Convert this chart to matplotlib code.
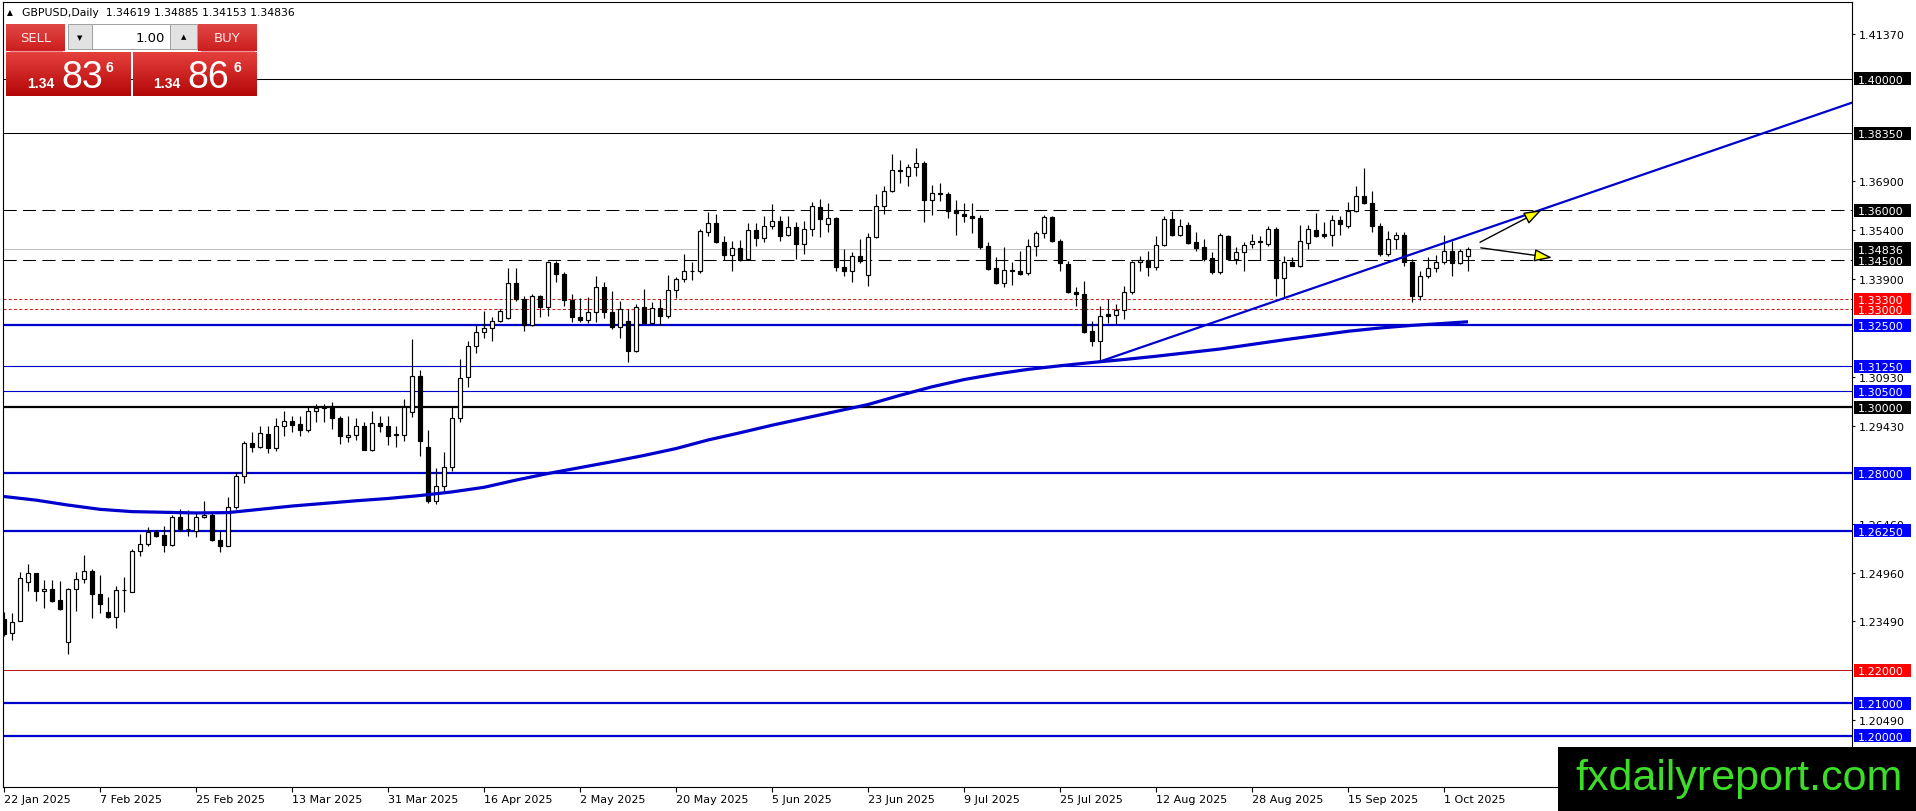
import numpy as np
import matplotlib
matplotlib.use("Agg")
import matplotlib.pyplot as plt
from matplotlib.patches import Rectangle, FancyArrowPatch

# ---- daily candles GBPUSD, bar 0 = 22 Jan 2025 ----
opens = [1.2356, 1.2313, 1.2349, 1.2468, 1.2496, 1.2440, 1.2446, 1.2414, 1.2285, 1.2446,
         1.2477, 1.2501, 1.2431, 1.2376, 1.2363, 1.2443, 1.2439, 1.2562, 1.2583, 1.2620,
         1.2612, 1.2582, 1.2666, 1.2630, 1.2623, 1.2666, 1.2673, 1.2598, 1.2577, 1.2698,
         1.2792, 1.2891, 1.2879, 1.2919, 1.2876, 1.2943, 1.2960, 1.2950, 1.2932, 1.2988,
         1.2999, 1.3001, 1.2967, 1.2909, 1.2917, 1.2943, 1.2872, 1.2952, 1.2945, 1.2917,
         1.2917, 1.2985, 1.3097, 1.2879, 1.2716, 1.2762, 1.2818, 1.2967, 1.3092, 1.3186,
         1.3229, 1.3241, 1.3264, 1.3271, 1.3378, 1.3330, 1.3251, 1.3338, 1.3307, 1.3439,
         1.3405, 1.3326, 1.3274, 1.3266, 1.3292, 1.3366, 1.3290, 1.3244, 1.3264, 1.3173,
         1.3305, 1.3257, 1.3302, 1.3277, 1.3358, 1.3391, 1.3416, 1.3417, 1.3533, 1.3561,
         1.3505, 1.3465, 1.3487, 1.3452, 1.3541, 1.3515, 1.3551, 1.3569, 1.3526, 1.3548,
         1.3498, 1.3543, 1.3609, 1.3559, 1.3576, 1.3427, 1.3417, 1.3462, 1.3404, 1.3520,
         1.3612, 1.3660, 1.3724, 1.3706, 1.3731, 1.3743, 1.3633, 1.3653, 1.3650, 1.3602,
         1.3589, 1.3582, 1.3576, 1.3491, 1.3424, 1.3379, 1.3418, 1.3414, 1.3408, 1.3491,
         1.3530, 1.3579, 1.3508, 1.3437, 1.3353, 1.3347, 1.3234, 1.3203, 1.3284, 1.3282,
         1.3297, 1.3352, 1.3442, 1.3450, 1.3429, 1.3495, 1.3574, 1.3525, 1.3556, 1.3503,
         1.3488, 1.3454, 1.3411, 1.3521, 1.3452, 1.3474, 1.3498, 1.3508, 1.3498, 1.3543,
         1.3393, 1.3442, 1.3432, 1.3501, 1.3541, 1.3527, 1.3525, 1.3571, 1.3551, 1.3597,
         1.3643, 1.3624, 1.3551, 1.3467, 1.3513, 1.3525, 1.3444, 1.3340, 1.3399, 1.3426,
         1.3442, 1.3475, 1.3440, 1.34619]
highs = [1.2376, 1.2373, 1.2500, 1.2524, 1.2496, 1.2476, 1.2476, 1.2473, 1.2452, 1.2500,
         1.2551, 1.2509, 1.2491, 1.2422, 1.2456, 1.2483, 1.2569, 1.2614, 1.2635, 1.2627,
         1.2638, 1.2673, 1.2691, 1.2688, 1.2681, 1.2715, 1.2681, 1.2625, 1.2726, 1.2803,
         1.2899, 1.2924, 1.2945, 1.2945, 1.2967, 1.2988, 1.2975, 1.2975, 1.3000, 1.3011,
         1.3011, 1.3016, 1.2975, 1.2973, 1.2967, 1.2955, 1.2990, 1.2973, 1.2973, 1.2943,
         1.3026, 1.3208, 1.3114, 1.2932, 1.2815, 1.2864, 1.3000, 1.3148, 1.3201, 1.3252,
         1.3293, 1.3275, 1.3300, 1.3425, 1.3425, 1.3340, 1.3347, 1.3342, 1.3447, 1.3447,
         1.3413, 1.3345, 1.3332, 1.3335, 1.3401, 1.3381, 1.3356, 1.3323, 1.3300, 1.3315,
         1.3361, 1.3320, 1.3330, 1.3403, 1.3396, 1.3467, 1.3442, 1.3543, 1.3594, 1.3589,
         1.3523, 1.3508, 1.3511, 1.3561, 1.3561, 1.3582, 1.3620, 1.3582, 1.3582, 1.3564,
         1.3569, 1.3627, 1.3635, 1.3623, 1.3579, 1.3482, 1.3472, 1.3513, 1.3531, 1.3650,
         1.3675, 1.3772, 1.3754, 1.3741, 1.3789, 1.3751, 1.3677, 1.3683, 1.3655, 1.3633,
         1.3622, 1.3622, 1.3586, 1.3503, 1.3457, 1.3488, 1.3442, 1.3477, 1.3513, 1.3538,
         1.3586, 1.3584, 1.3513, 1.3447, 1.3366, 1.3386, 1.3264, 1.3310, 1.3330, 1.3315,
         1.3371, 1.3447, 1.3460, 1.3477, 1.3523, 1.3584, 1.3599, 1.3574, 1.3566, 1.3533,
         1.3513, 1.3472, 1.3530, 1.3525, 1.3490, 1.3503, 1.3528, 1.3521, 1.3551, 1.3548,
         1.3460, 1.3457, 1.3555, 1.3555, 1.3592, 1.3566, 1.3586, 1.3584, 1.3625, 1.3673,
         1.3728, 1.3660, 1.3561, 1.3538, 1.3535, 1.3533, 1.3452, 1.3414, 1.3457, 1.3464,
         1.3526, 1.3508, 1.3484, 1.34885]
lows = [1.2305, 1.2293, 1.2349, 1.2440, 1.2412, 1.2391, 1.2407, 1.2384, 1.2249, 1.2379,
        1.2467, 1.2360, 1.2373, 1.2360, 1.2330, 1.2376, 1.2437, 1.2549, 1.2578, 1.2605,
        1.2561, 1.2577, 1.2625, 1.2610, 1.2605, 1.2663, 1.2593, 1.2559, 1.2577, 1.2691,
        1.2769, 1.2866, 1.2876, 1.2861, 1.2869, 1.2912, 1.2924, 1.2912, 1.2924, 1.2955,
        1.2955, 1.2935, 1.2888, 1.2896, 1.2901, 1.2872, 1.2869, 1.2924, 1.2887, 1.2879,
        1.2899, 1.2970, 1.2853, 1.2708, 1.2705, 1.2744, 1.2808, 1.2955, 1.3063, 1.3165,
        1.3213, 1.3203, 1.3259, 1.3269, 1.3325, 1.3234, 1.3249, 1.3274, 1.3279, 1.3381,
        1.3310, 1.3261, 1.3261, 1.3257, 1.3261, 1.3271, 1.3239, 1.3213, 1.3140, 1.3168,
        1.3254, 1.3254, 1.3251, 1.3271, 1.3332, 1.3381, 1.3389, 1.3409, 1.3523, 1.3500,
        1.3450, 1.3416, 1.3447, 1.3450, 1.3493, 1.3503, 1.3543, 1.3508, 1.3523, 1.3452,
        1.3467, 1.3523, 1.3518, 1.3533, 1.3416, 1.3401, 1.3383, 1.3440, 1.3371, 1.3515,
        1.3589, 1.3655, 1.3683, 1.3675, 1.3704, 1.3564, 1.3586, 1.3630, 1.3576, 1.3525,
        1.3564, 1.3531, 1.3482, 1.3419, 1.3376, 1.3366, 1.3374, 1.3403, 1.3403, 1.3462,
        1.3515, 1.3505, 1.3417, 1.3350, 1.3308, 1.3227, 1.3186, 1.3142, 1.3256, 1.3254,
        1.3269, 1.3345, 1.3416, 1.3399, 1.3419, 1.3493, 1.3521, 1.3523, 1.3498, 1.3477,
        1.3447, 1.3406, 1.3405, 1.3450, 1.3437, 1.3416, 1.3485, 1.3449, 1.3493, 1.3340,
        1.3335, 1.3430, 1.3427, 1.3482, 1.3518, 1.3515, 1.3493, 1.3525, 1.3545, 1.3594,
        1.3619, 1.3535, 1.3462, 1.3460, 1.3483, 1.3432, 1.3322, 1.3328, 1.3393, 1.3413,
        1.3437, 1.3401, 1.3437, 1.34153]
closes = [1.2310, 1.2348, 1.2480, 1.2496, 1.2440, 1.2446, 1.2412, 1.2387, 1.2446, 1.2477,
          1.2501, 1.2431, 1.2401, 1.2363, 1.2443, 1.2444, 1.2562, 1.2583, 1.2620, 1.2610,
          1.2582, 1.2666, 1.2630, 1.2631, 1.2666, 1.2673, 1.2598, 1.2577, 1.2698, 1.2792,
          1.2891, 1.2879, 1.2921, 1.2876, 1.2943, 1.2960, 1.2948, 1.2932, 1.2988, 1.2998,
          1.3000, 1.2967, 1.2914, 1.2917, 1.2943, 1.2872, 1.2952, 1.2943, 1.2914, 1.2918,
          1.3000, 1.3097, 1.2897, 1.2716, 1.2762, 1.2818, 1.2967, 1.3089, 1.3186, 1.3229,
          1.3241, 1.3264, 1.3293, 1.3378, 1.3330, 1.3251, 1.3338, 1.3307, 1.3442, 1.3405,
          1.3326, 1.3274, 1.3266, 1.3292, 1.3366, 1.3290, 1.3244, 1.3300, 1.3173, 1.3305,
          1.3257, 1.3302, 1.3277, 1.3358, 1.3391, 1.3416, 1.3417, 1.3538, 1.3561, 1.3505,
          1.3465, 1.3487, 1.3450, 1.3541, 1.3515, 1.3551, 1.3569, 1.3523, 1.3548, 1.3498,
          1.3543, 1.3612, 1.3574, 1.3576, 1.3427, 1.3417, 1.3462, 1.3447, 1.3520, 1.3612,
          1.3660, 1.3724, 1.3719, 1.3731, 1.3743, 1.3633, 1.3653, 1.3650, 1.3599, 1.3592,
          1.3584, 1.3576, 1.3488, 1.3422, 1.3379, 1.3418, 1.3414, 1.3406, 1.3491, 1.3530,
          1.3579, 1.3508, 1.3439, 1.3352, 1.3347, 1.3231, 1.3203, 1.3279, 1.3279, 1.3297,
          1.3352, 1.3442, 1.3450, 1.3429, 1.3495, 1.3574, 1.3525, 1.3554, 1.3501, 1.3485,
          1.3452, 1.3411, 1.3525, 1.3452, 1.3474, 1.3496, 1.3508, 1.3503, 1.3543, 1.3393,
          1.3442, 1.3432, 1.3506, 1.3543, 1.3521, 1.3521, 1.3571, 1.3558, 1.3597, 1.3643,
          1.3622, 1.3551, 1.3467, 1.3513, 1.3525, 1.3444, 1.3340, 1.3399, 1.3426, 1.3442,
          1.3475, 1.3440, 1.3475, 1.34836]

date_labels = ['22 Jan 2025', '7 Feb 2025', '25 Feb 2025', '13 Mar 2025', '31 Mar 2025',
               '16 Apr 2025', '2 May 2025', '20 May 2025', '5 Jun 2025', '23 Jun 2025',
               '9 Jul 2025', '25 Jul 2025', '12 Aug 2025', '28 Aug 2025', '15 Sep 2025',
               '1 Oct 2025']
date_bars = list(range(0, 181, 12))

# moving average
ma_bars = list(range(0, 181, 4)) + [183]
ma_values = [1.2729, 1.2718, 1.2703, 1.2690, 1.2683, 1.2681, 1.2679, 1.2680, 1.2690, 1.2700,
             1.2708, 1.2716, 1.2723, 1.2732, 1.2743, 1.2757, 1.2779, 1.2799, 1.2817, 1.2835,
             1.2854, 1.2875, 1.2901, 1.2923, 1.2946, 1.2967, 1.2988, 1.3009, 1.3037, 1.3063,
             1.3085, 1.3102, 1.3116, 1.3127, 1.3137, 1.3146, 1.3156, 1.3167, 1.3178, 1.3192,
             1.3206, 1.3219, 1.3232, 1.3242, 1.3250, 1.3256, 1.3261]

# trendline (from 1 Aug low to the right edge)
trend_bars = [137, 231]
trend_prices = [1.3140, 1.3928]

# arrows (bar, price)
arrow_up = [(184.5, 1.3503), (192.2, 1.3601)]
arrow_side = [(184.6, 1.3486), (193.5, 1.3456)]

# horizontal levels
level_values = [1.40, 1.3835, 1.36, 1.34836, 1.345, 1.333, 1.33, 1.325,
                1.3125, 1.305, 1.30, 1.28, 1.2625, 1.22, 1.21, 1.20]
axis_ticks = [1.41370, 1.36900, 1.35400, 1.33900, 1.30930, 1.29430,
              1.26460, 1.24960, 1.23490, 1.20490]

bid_price = "1.34836"
ask_price = "1.34866"


plt.rcParams['font.family'] = ['DejaVu Sans']
plt.rcParams['lines.scale_dashes'] = False

W, H = 1916, 812
BLUE = '#0000CC'
fig = plt.figure(figsize=(W / 100, H / 100), dpi=100)
fig.patch.set_facecolor('white')

ax = fig.add_axes([3 / W, 1 - 788 / H, 1849 / W, 785 / H])
ax.set_xlim(-0.125, 231.0)
ax.set_ylim(1.18447, 1.42344)
for sp in ax.spines.values():
    sp.set_color('black')
    sp.set_linewidth(0.8)

# level line styles: colour, width, dash
BLACK_SOLID = ('black', 0.75, '-')
DASHED = ('black', 0.75, (0, (9.5, 4.5)))
GRAY = ('#c0c0c0', 0.75, '-')
RED_DOT = ('#d02020', 0.75, (0, (2.2, 1.6)))
BLUE_THICK = (BLUE, 1.6, '-')
BLUE_THIN = (BLUE, 0.8, '-')
level_styles = [BLACK_SOLID, BLACK_SOLID, DASHED, GRAY, DASHED, RED_DOT, RED_DOT, BLUE_THICK,
                BLUE_THIN, BLUE_THIN, ('black', 1.6, '-'), BLUE_THICK, BLUE_THICK,
                ('#b81818', 0.75, '-'), BLUE_THICK, BLUE_THICK]
label_colors = ['black', 'black', 'black', 'black', 'black', '#ff0000', '#ff0000', '#0000ff',
                '#0000ff', '#0000ff', 'black', '#0000ff', '#0000ff', '#ff0000', '#0000ff', '#0000ff']

for val, (col, lw, ls) in zip(level_values, level_styles):
    ax.axhline(val, color=col, lw=lw, linestyle=ls, zorder=2)

# candles
o = np.array(opens)
h = np.array(highs)
l = np.array(lows)
c = np.array(closes)
bars = np.arange(len(o))
ax.vlines(bars, l, h, color='black', lw=0.85, zorder=4)
body = c - o
body = np.where(np.abs(body) < 2e-5, 2e-5, body)
face = np.where(c < o, 'black', 'white')
ax.bar(bars, body, bottom=o, width=0.56, color=face, edgecolor='black',
       linewidth=0.85, zorder=5)

# moving average and trendline
ax.plot(ma_bars, ma_values, color=BLUE, lw=2.3, zorder=6, solid_capstyle='butt',
        solid_joinstyle='round')
ax.plot(trend_bars, trend_prices, color=BLUE, lw=1.6, zorder=6)

for start, end in (arrow_up, arrow_side):
    arr = FancyArrowPatch(start, end, arrowstyle='-|>,head_length=0.9,head_width=0.32',
                          mutation_scale=12, facecolor='#ffff00', edgecolor='black',
                          lw=1.0, shrinkA=0, shrinkB=0, zorder=7)
    ax.add_patch(arr)

# axes ticks
ax.yaxis.tick_right()
ax.set_yticks(axis_ticks)
ax.set_yticklabels([f'{v:.5f}' for v in axis_ticks])
ax.tick_params(axis='y', direction='out', length=2.5, width=0.8, pad=2.5, labelsize=8)
ax.set_xticks(date_bars)
ax.set_xticklabels(date_labels, ha='left')
ax.tick_params(axis='x', direction='out', length=3.5, width=0.8, pad=1.5, labelsize=8)

# overlay in pixel coordinates
ov = fig.add_axes([0, 0, 1, 1], zorder=10)
ov.patch.set_visible(False)
ov.axis('off')


def ypix(p):
    return H - ax.transData.transform((0, p))[1]


for val, col in zip(level_values, label_colors):
    y = ypix(val)
    ov.add_patch(Rectangle((1854, y - 6.5), 57, 13, facecolor=col, edgecolor='none', zorder=11))
    ov.text(1858, y, f'{val:.5f}', color='white', fontsize=8, ha='left',
            va='center_baseline', zorder=12)


def grad_rect(x0, y0, w, hgt, top, bottom):
    t = np.linspace(0, 1, 40)[:, None, None]
    img = (1 - t) * np.array(top)[None, None, :] + t * np.array(bottom)[None, None, :]
    ov.imshow(img, extent=(x0, x0 + w, y0 + hgt, y0), aspect='auto', zorder=11,
              interpolation='bilinear')


# trade panel
grad_rect(6, 25, 59, 27, (0.88, 0.28, 0.27), (0.80, 0.12, 0.12))
grad_rect(198, 25, 59, 27, (0.88, 0.28, 0.27), (0.80, 0.12, 0.12))
grad_rect(6, 53, 125, 44, (0.90, 0.25, 0.24), (0.70, 0.03, 0.03))
grad_rect(133, 53, 124, 44, (0.90, 0.25, 0.24), (0.70, 0.03, 0.03))
ov.plot([10, 62], [51.5, 51.5], color='#f29a9a', lw=0.8, zorder=12)
ov.plot([201, 254], [51.5, 51.5], color='#f29a9a', lw=0.8, zorder=12)
ov.add_patch(Rectangle((68, 25), 24, 25, facecolor='#e2e2e2', edgecolor='#a0a0a0', lw=0.7, zorder=11))
ov.add_patch(Rectangle((92, 25), 78, 25, facecolor='white', edgecolor='#a0a0a0', lw=0.7, zorder=11))
ov.add_patch(Rectangle((170, 25), 27, 25, facecolor='#e2e2e2', edgecolor='#a0a0a0', lw=0.7, zorder=11))
ov.text(80, 38, '\u25bc', fontsize=5, ha='center', va='center', zorder=12)
ov.text(183.5, 37, '\u25b2', fontsize=5, ha='center', va='center', zorder=12)
ov.text(165, 38, '1.00', fontsize=9.5, ha='right', va='center', zorder=12)
ov.text(35.5, 39, 'SELL', fontsize=9.5, color='#ffe6e6', ha='center', va='center', zorder=12)
ov.text(227.5, 39, 'BUY', fontsize=9.5, color='#ffe6e6', ha='center', va='center', zorder=12)

for x_small, x_big, x_sup, price in ((27, 61, 106, bid_price), (153, 187, 234, ask_price)):
    ov.text(x_small, 88, price[:4], fontsize=10, fontweight='bold', color='white',
            family='Liberation Sans', va='baseline', zorder=12)
    ov.text(x_big, 88, price[4:6], fontsize=27, color='white', family='Liberation Sans',
            va='baseline', zorder=12)
    ov.text(x_sup, 72, price[6], fontsize=10, fontweight='bold', color='white',
            family='Liberation Sans', va='baseline', zorder=12)

# header
ov.text(7, 13, '\u25b2', fontsize=5.5, va='center', ha='left', zorder=12)
ov.text(22, 13, f'GBPUSD,Daily  {opens[-1]:.5f} {highs[-1]:.5f} {lows[-1]:.5f} {closes[-1]:.5f}',
        fontsize=7.8, va='center', ha='left', zorder=12)

# watermark
ov.add_patch(Rectangle((1558, 748), 358, 64, facecolor='black', edgecolor='none', zorder=13))
ov.text(1575, 790, 'fxdailyreport.com', color='#3cdc28', fontsize=31,
        family='Liberation Sans', va='baseline', ha='left', zorder=14)

ov.set_xlim(0, W)
ov.set_ylim(H, 0)

fig.savefig('out.png', dpi=100, facecolor='white')
